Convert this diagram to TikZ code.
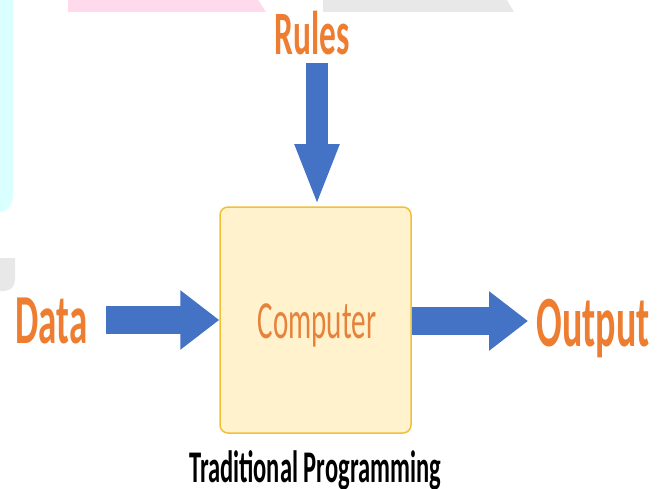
\documentclass[tikz,border=0pt]{standalone}
\usepackage{graphicx}
\usepackage{fontspec}
\setmainfont{Carlito}
\usetikzlibrary{arrows.meta}
\definecolor{txtor}{HTML}{ED7D31}
\definecolor{comptxt}{HTML}{E6823C}
\definecolor{arrblue}{HTML}{4472C4}
\definecolor{boxfill}{HTML}{FFF2CC}
\definecolor{boxline}{HTML}{F2C037}
\definecolor{wmpink}{HTML}{FFD9EC}
\definecolor{wmgray}{HTML}{E8E8E8}
\definecolor{wmcyan}{HTML}{D9FFFF}
\newcommand\tallt[2]{\scalebox{1}[#1]{#2}}
\tikzset{
  bigword/.style={inner sep=0pt, anchor=base, text=txtor, font=\bfseries},
  blockarrow/.style={draw=arrblue, line width=#1},
  comp/.style={draw=boxline, fill=boxfill, line width=1.5pt, rounded corners=8pt,
    minimum width=191pt, minimum height=226pt, inner sep=0pt}
}
\begin{document}
\begin{tikzpicture}[x=1pt,y=-1pt]
\useasboundingbox (0,0) rectangle (663,489);
% faint watermark shapes
\fill[wmpink] (68,0) -- (68,12) -- (266,12) -- (258,0) -- cycle;
\fill[wmgray] (323,0) -- (323,12) -- (514,12) -- (507,0) -- cycle;
\fill[wmcyan] (0,0) -- (13,0) -- (13,195) to[out=-90,in=0] (0,212) -- cycle;
\fill[wmgray] (0,258) -- (15,258) -- (15,280) to[out=-90,in=0] (4,291) -- (0,291) -- cycle;
% nodes
\node[comp] (box) at (315.5,320) {};
\node[inner sep=0pt, anchor=base, text=comptxt] (comptext) at (317,338)
  {\tallt{1.85}{\fontsize{29}{29}\selectfont Computer}};
\node[bigword] (rules) at (312,55) {\tallt{1.85}{\fontsize{33.4}{33.4}\selectfont Rules}};
\node[bigword] (data) at (51.5,343) {\tallt{1.9}{\fontsize{37}{37}\selectfont Data}};
\node[bigword] (output) at (593,346) {\tallt{1.9}{\fontsize{38}{38}\selectfont Output}};
\node[inner sep=0pt, anchor=base, font=\bfseries] (title) at (315,482)
  {\tallt{1.85}{\fontsize{24.5}{24.5}\selectfont Traditional Programming}};
% connectors
\coordinate (rulesstart) at (317,63);
\coordinate (datastart) at (106,320);
\coordinate (outend) at (528,321);
\draw[blockarrow=22pt, -{Triangle[width=40pt,length=62pt,fill=arrblue]}] (rulesstart) -- (box.north -| rulesstart);
\draw[blockarrow=28pt, -{Triangle[width=57pt,length=39pt,fill=arrblue]}] (datastart) -- (box.west |- datastart);
\draw[blockarrow=28pt, -{Triangle[width=57pt,length=39pt,fill=arrblue]}] (box.east |- outend) -- (outend);
\end{tikzpicture}
\end{document}
